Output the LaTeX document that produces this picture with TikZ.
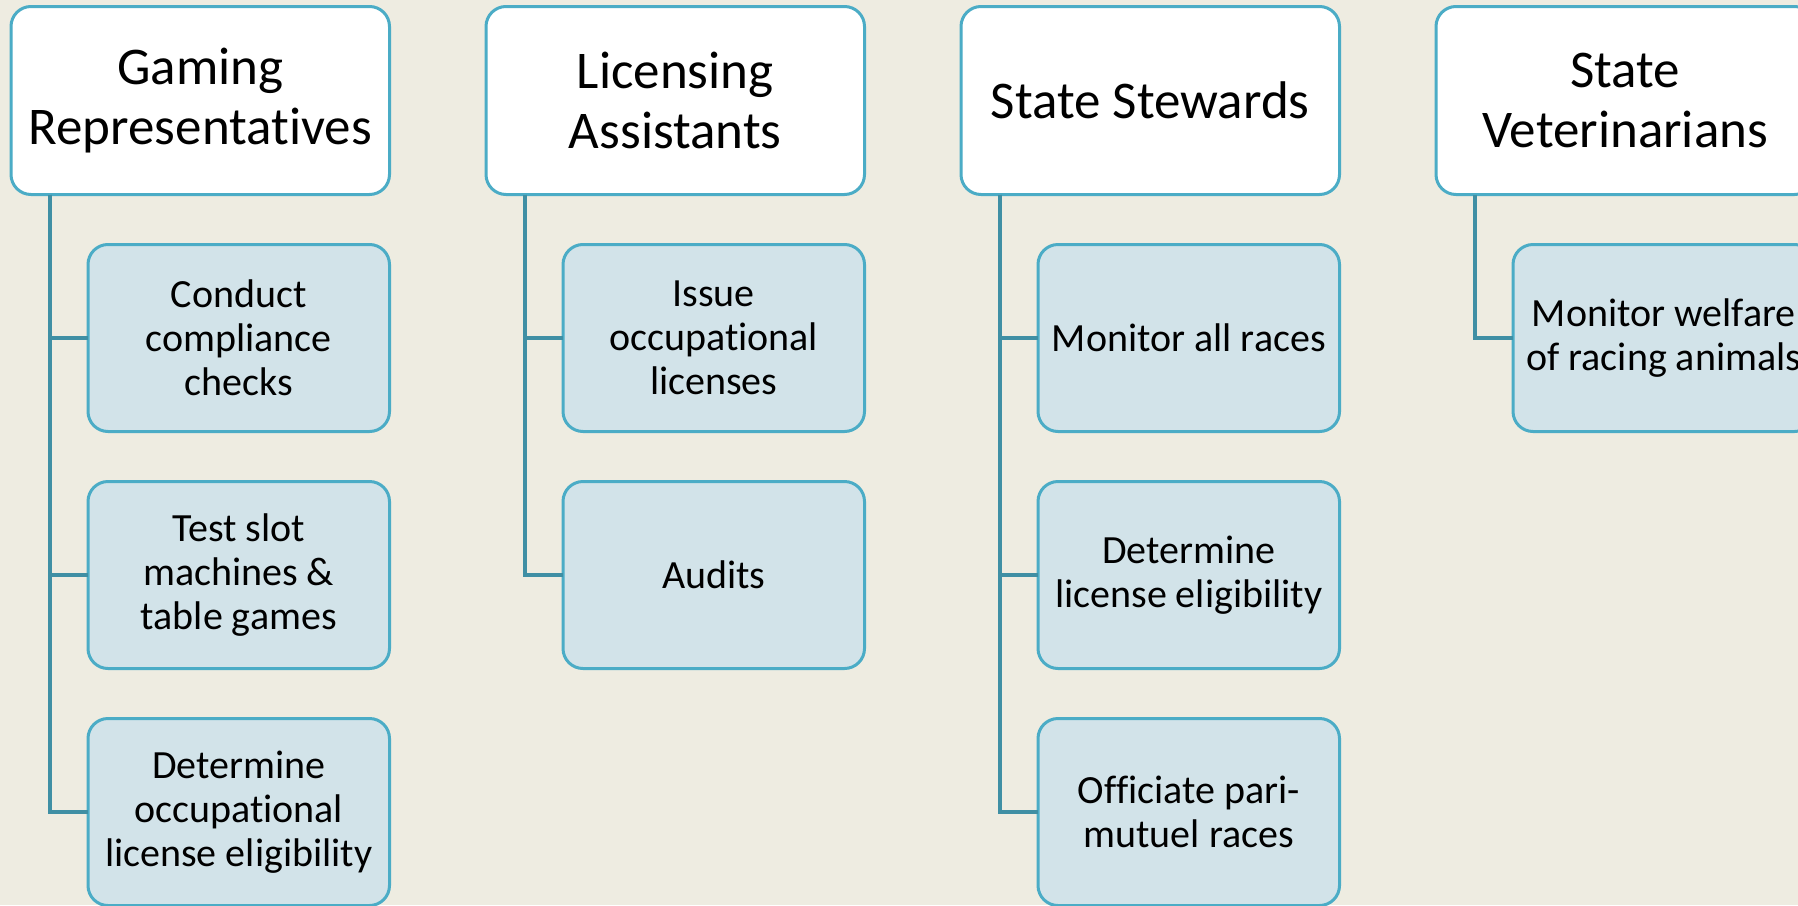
\documentclass[tikz,border=0pt]{standalone}
\usepackage{fontspec}
\setmainfont{Carlito}[RawFeature={-liga}]
\definecolor{bg}{HTML}{EEECE1}
\definecolor{bord}{HTML}{4BACC6}
\definecolor{cfill}{HTML}{D2E3E9}
\definecolor{conn}{HTML}{3F8FA4}
\tikzset{
  topbox/.style={draw=bord, fill=white, line width=3pt, rounded corners=20pt,
    minimum width=378.5pt, minimum height=188pt, inner sep=0pt, outer sep=0pt,
    align=center, font=\fontsize{53}{60}\selectfont},
  childbox/.style={draw=bord, fill=cfill, line width=3pt, rounded corners=20pt,
    minimum width=301.5pt, minimum height=187pt, inner sep=0pt, outer sep=0pt,
    align=center, font=\fontsize{40}{44}\selectfont},
  link/.style={draw=conn, line width=3.2pt}
}
\begin{document}
\begin{tikzpicture}[x=1pt,y=-1pt]
\useasboundingbox (0,0) rectangle (1798,905);
\clip (0,0) rectangle (1798,905);
\fill[bg] (0,0) rectangle (1798,905);
% column 1
\node[topbox] (g) at (200.25,100.5) {Gaming\\Representatives};
\node[childbox] (g1) at (238.75,338) {Conduct\\compliance\\checks};
\node[childbox] (g2) at (238.75,575) {Test slot\\machines \&\\table games};
\node[childbox] (g3) at (238.75,812) {Determine\\occupational\\license eligibility};
% column 2
\node[topbox] (l) at (675.25,100.5) {Licensing\\Assistants};
\node[childbox] (l1) at (713.75,338) {Issue\\occupational\\licenses};
\node[childbox] (l2) at (713.75,575) {Audits};
% column 3
\node[topbox] (s) at (1150.25,100.5) {State Stewards};
\node[childbox] (s1) at (1188.75,338) {Monitor all races};
\node[childbox] (s2) at (1188.75,575) {Determine\\license eligibility};
\node[childbox] (s3) at (1188.75,812) {Officiate pari-\\mutuel races};
% column 4
\node[topbox] (v) at (1625.25,100.5) {State\\Veterinarians};
\node[childbox] (v1) at (1663.75,338) {Monitor welfare\\of racing animals};
% connectors
\foreach \p/\c in {g/g1,g/g2,g/g3,l/l1,l/l2,s/s1,s/s2,s/s3,v/v1}{
  \draw[link] ([xshift=39pt]\p.south west) |- (\c.west);
}
\end{tikzpicture}
\end{document}
